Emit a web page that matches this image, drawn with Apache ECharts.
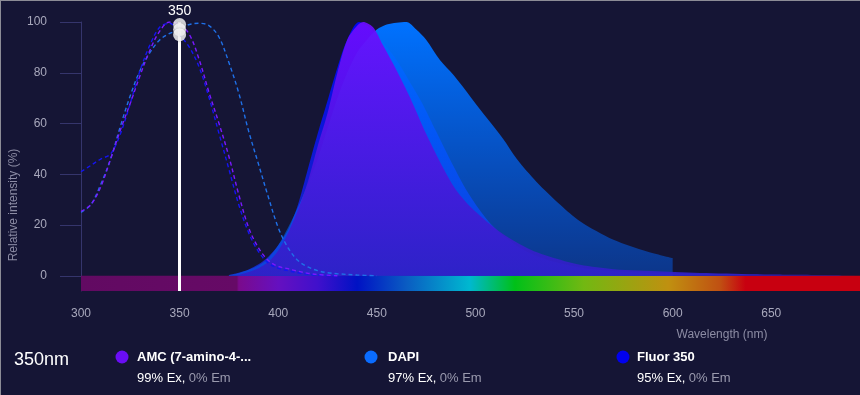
<!DOCTYPE html>
<html>
<head>
<meta charset="utf-8">
<script src="https://cdn.jsdelivr.net/npm/echarts@6/dist/echarts.min.js"></script>
<style>
html,body{margin:0;padding:0;background:#151535;overflow:hidden;}
#c{position:absolute;left:0;top:0;width:860px;height:395px;}
.bt{position:absolute;left:0;top:0;width:860px;height:1px;background:#8c8c96;}
.bl{position:absolute;left:0;top:0;width:1px;height:395px;background:#8c8c96;}
</style>
</head>
<body>
<div id="c"></div><div class="bt"></div><div class="bl"></div>
<script>
// ---------- DATA ----------
const dyeNames = ['AMC (7-amino-4-...', 'DAPI', 'Fluor 350'];
const dyeColors = ['#6a0df5', '#0a6cff', '#0000ee'];
const exPct = [99, 97, 95];
const emPct = [0, 0, 0];
const selectedWl = 350;

const xTicks = [300, 350, 400, 450, 500, 550, 600, 650];
const yTicks = [0, 20, 40, 60, 80, 100];

// excitation (dashed)
const amcExWl  = [300,305,310,315,320,325,330,335,340,345,350,355,360,365,370,375,380,385,390,395,400,405,410,415,420,430];
const amcExVal = [25.4,28,35,46,57.5,68,79,89,96.5,100,99,95,85,72,60,47,32,19,11,6,3.7,2.8,1.8,1,0.5,0];

const dapiExWl  = [300,305,310,315,320,325,330,335,340,345,350,355,360,365,370,375,380,385,390,395,400,405,410,415,420,425,430,440,450];
const dapiExVal = [25,28,36,46,59,71,81,88,93,95.5,97,99,99.5,98.5,94,84,72,57,44,31,19,11,6,3.5,2,1.2,0.8,0.3,0];

const fluorExWl  = [300,305,310,315,320,325,330,335,340,345,350,355,360,365,370,375,380,385,390,395,400,405,410,415,420,430];
const fluorExVal = [41,43.5,46,48,56,68,81,91,98,99.5,95,90,82,70,56,42,28,17,9.5,5,3,2,1.2,0.7,0.3,0];

// emission (filled)
const amcEmWl  = [378,385,390,395,400,405,410,415,420,425,430,435,440,443,448,453,460,467,475,484,490,499,513,528,543,553,570,595,620,650,695];
const amcEmVal = [0,1.5,3,5.5,10,17,26,37,51,64,80,93,98.5,100,98,91,81,70,56,42,34,26,17,10.3,6.3,4.3,2.6,1.7,1,0.5,0.2];

const dapiEmWl  = [375,380,390,395,400,405,410,415,420,425,430,435,440,445,450,455,460,465,470,475,482,489,498,506,514,521,531,543,553,570,587,600];
const dapiEmVal = [0.3,1,4,7,12,19,27,36,46,58,70,80,88,93,97,99,99.7,100,97,93,85,79,70,62,54,46,37,28,21.5,14.2,9.6,7];

const fluorEmWl  = [375,380,385,390,395,400,405,410,415,420,425,430,435,441,446,452,460,467,473,480,487,496,505,513,525,540,560,600,650];
const fluorEmVal = [0.3,1.2,2.5,4.5,7.5,12,18,28,42,56,69,82,93,100,98,93,85,76,68,57,46,33,23,16.5,10,5.5,2.5,1,0.3];

// visible spectrum strip
const specWl     = [300,379,380,400,420,440,465,497,520,555,598,624,637,695];
const specColors = ['#620a62','#660a66','#7a0a8c','#6510c0','#4010cc','#0012c4','#0a5cc2','#00b8d0','#00c018','#72b812','#c09010','#c05012','#c80010','#c80010'];

// ---------- BUILD ----------
const pairs = (xs, ys) => xs.map((x, i) => [x, ys[i]]);
const X0 = 300, X1 = 695;
const grad = (top, bottom) => ({type:'linear', x:0, y:0, x2:0, y2:1, colorStops:[{offset:0,color:top},{offset:1,color:bottom}]});

const specStops = specWl.map((w, i) => ({offset:(w - X0) / (X1 - X0), color:specColors[i]}));

function emSeries(name, xs, ys, top, bottom, z, op) {
  return {name, type:'line', data:pairs(xs, ys), smooth:0.3, showSymbol:false, z,
    lineStyle:{width:0}, areaStyle:{color:grad(top, bottom), opacity:op}, silent:true};
}
function exSeries(name, xs, ys, color, z) {
  return {name, type:'line', data:pairs(xs, ys), smooth:0.35, showSymbol:false, z,
    lineStyle:{color, width:1.4, type:[4,3]}, silent:true};
}

const chart = echarts.init(document.getElementById('c'), null, {renderer:'canvas'});

const legendGraphics = [];
const cx = [122, 371, 623];
const tx = [137, 388, 637];
dyeNames.forEach((n, i) => {
  legendGraphics.push({type:'circle', shape:{cx:cx[i], cy:357, r:6.5}, style:{fill:dyeColors[i]}});
  legendGraphics.push({type:'text', x:tx[i], y:357, style:{text:n, fill:'#ffffff', font:'bold 13px "Liberation Sans", Arial, sans-serif', textVerticalAlign:'middle'}});
  legendGraphics.push({type:'text', x:tx[i], y:378, style:{
    text:'{a|' + exPct[i] + '% Ex,} {b|' + emPct[i] + '% Em}',
    textVerticalAlign:'middle',
    rich:{a:{fill:'#ffffff', font:'13px "Liberation Sans", Arial, sans-serif'}, b:{fill:'#9a9aae', font:'13px "Liberation Sans", Arial, sans-serif'}}
  }});
});

const option = {
  backgroundColor:'#151535',
  animation:false,
  textStyle:{fontFamily:'"Liberation Sans", Arial, sans-serif'},
  grid:{left:81, right:0, top:22, bottom:104, containLabel:false},
  xAxis:{type:'value', min:X0, max:X1, interval:50,
    axisLine:{lineStyle:{color:'#35356c', width:1}},
    axisTick:{show:true, length:5, lineStyle:{color:'#35356c'}, customValues:xTicks},
    axisLabel:{color:'#a8a8bc', fontSize:12, margin:17, customValues:xTicks},
    splitLine:{show:false}},
  yAxis:{type:'value', min:-6, max:100,
    axisLine:{show:true, lineStyle:{color:'#35356c', width:1}},
    axisTick:{show:true, length:21, lineStyle:{color:'#35356c'}, customValues:yTicks},
    axisLabel:{color:'#a8a8bc', fontSize:12, margin:34, customValues:yTicks},
    splitLine:{show:false}},
  graphic:[
    {type:'text', x:14, y:205, rotation:Math.PI/2, style:{text:'Relative intensity (%)', fill:'#8c8ca4', font:'12px "Liberation Sans", Arial, sans-serif', textAlign:'center', textVerticalAlign:'middle'}},
    {type:'text', x:722, y:335, style:{text:'Wavelength (nm)', fill:'#8c8ca4', font:'12px "Liberation Sans", Arial, sans-serif', textAlign:'center', textVerticalAlign:'middle'}},
    {type:'text', x:14, y:360, style:{text:selectedWl + 'nm', fill:'#ffffff', font:'18px "Liberation Sans", Arial, sans-serif', textVerticalAlign:'middle'}}
  ].concat(legendGraphics),
  series:[
    {name:'spectrum', type:'line', data:[], z:1, silent:true,
      markArea:{silent:true, itemStyle:{color:{type:'linear', x:0, y:0, x2:1, y2:0, colorStops:specStops}},
        data:[[{coord:[X0, 0]}, {coord:[X1, -6]}]]}},
    emSeries('Fluor 350 em', fluorEmWl, fluorEmVal, '#0008ee', '#1a28bc', 2, 1),
    emSeries('DAPI em', dapiEmWl, dapiEmVal, 'rgba(0,114,255,1)', 'rgba(0,100,255,0.42)', 3, 1),
    emSeries('AMC em', amcEmWl, amcEmVal, '#6e0cff', '#3020c6', 4, 0.92),
    exSeries('DAPI ex', dapiExWl, dapiExVal, '#1f70e8', 5),
    exSeries('Fluor 350 ex', fluorExWl, fluorExVal, '#1414f0', 6),
    exSeries('AMC ex', amcExWl, amcExVal, '#7a18ff', 7),
    {name:'sel', type:'scatter', z:10, silent:true,
      data:exPct.map(v => [selectedWl, v]),
      symbolSize:13,
      itemStyle:{color:'#ffffff', shadowBlur:2, shadowColor:'rgba(0,0,0,0.35)'},
      markLine:{silent:true, symbol:['none','none'], animation:false,
        lineStyle:{color:'#ffffff', width:3, type:'solid'},
        label:{show:true, position:'end', distance:4, formatter:String(selectedWl), color:'#ffffff', fontSize:14},
        data:[{xAxis:selectedWl}]}}
  ]
};
chart.setOption(option);
</script>
</body>
</html>
